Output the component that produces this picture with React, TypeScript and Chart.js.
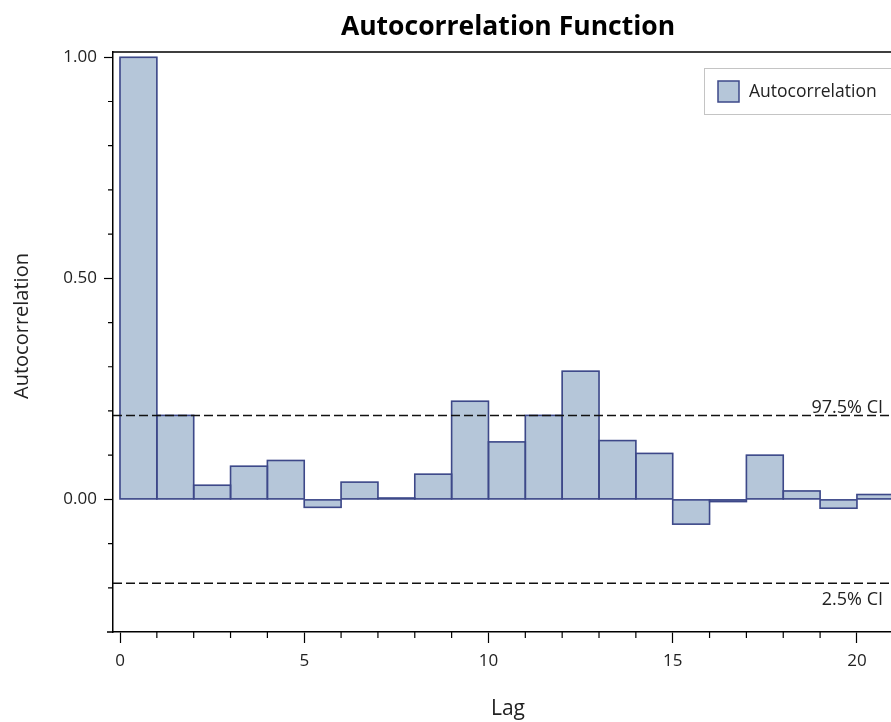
import React, { useEffect, useRef } from 'react';
import { Chart, registerables } from 'chart.js';

Chart.register(...registerables);

// ---- data ----
const lags: number[] = [0, 1, 2, 3, 4, 5, 6, 7, 8, 9, 10, 11, 12, 13, 14, 15, 16, 17, 18, 19, 20];
const acfValues: number[] = [1.0, 0.19, 0.032, 0.075, 0.088, -0.018, 0.039, 0.003, 0.057, 0.222, 0.13, 0.19, 0.29, 0.133, 0.104, -0.056, -0.005, 0.1, 0.019, -0.02, 0.011];
const ciUpper = 0.19;
const ciLower = -0.19;
const xRange: number[] = [-0.19, 21.25];
const yRange: number[] = [-0.3, 1.012];
const xMajorEvery = 5;
const yMajorEvery = 0.5;

const titleText = 'Autocorrelation Function';
const seriesLabel = 'Autocorrelation';
const xTitle = 'Lag';
const yTitle = 'Autocorrelation';
const ciUpperLabel = '97.5% CI';
const ciLowerLabel = '2.5% CI';

// ---- styles ----
const FONT = "'Open Sans', 'Noto Sans', sans-serif";
const BAR_FILL = '#b5c6d9';
const BAR_EDGE = '#3d4889';
const TEXT = '#222';

const isMajorX = (v: number) => Math.abs(v / xMajorEvery - Math.round(v / xMajorEvery)) < 1e-6;
const isMajorY = (v: number) => Math.abs(v / yMajorEvery - Math.round(v / yMajorEvery)) < 1e-6;

// outlines of the bars, stroked on the bar elements' own geometry so that
// neighbouring bars share a single edge line
const barOutlinePlugin = {
  id: 'barOutline',
  afterDatasetDraw(chart: any, args: any) {
    if (args.index !== 0) return;
    const { ctx } = chart;
    const meta = chart.getDatasetMeta(0);
    ctx.save();
    ctx.strokeStyle = BAR_EDGE;
    ctx.lineWidth = 1.6;
    meta.data.forEach((bar: any) => {
      const { x, y, base, width } = bar.getProps(['x', 'y', 'base', 'width'], true);
      const left = x - width / 2;
      const top = Math.min(y, base);
      const h = Math.abs(base - y);
      ctx.strokeRect(left, top, width, h);
    });
    ctx.restore();
  },
};

const decorPlugin = {
  id: 'decor',
  afterDraw(chart: any) {
    const { ctx, chartArea, scales } = chart;
    const xs = scales.x;
    const ys = scales.y;
    ctx.save();
    // plot frame top/right
    ctx.strokeStyle = '#000';
    ctx.lineWidth = 1.5;
    ctx.beginPath();
    ctx.moveTo(chartArea.left, chartArea.top);
    ctx.lineTo(chartArea.right, chartArea.top);
    ctx.lineTo(chartArea.right, chartArea.bottom);
    ctx.moveTo(chartArea.left - 6, chartArea.bottom);
    ctx.lineTo(chartArea.left, chartArea.bottom);
    ctx.stroke();
    // minor ticks
    ctx.lineWidth = 1.2;
    ctx.beginPath();
    xs.ticks.forEach((t: any) => {
      if (!isMajorX(t.value)) {
        const px = xs.getPixelForValue(t.value);
        ctx.moveTo(px, chartArea.bottom);
        ctx.lineTo(px, chartArea.bottom + 6);
      }
    });
    ys.ticks.forEach((t: any) => {
      if (!isMajorY(t.value)) {
        const py = ys.getPixelForValue(t.value);
        ctx.moveTo(chartArea.left, py);
        ctx.lineTo(chartArea.left - 5, py);
      }
    });
    ctx.stroke();

    // title
    ctx.fillStyle = '#000';
    ctx.font = `bold 26.5px ${FONT}`;
    ctx.textAlign = 'center';
    ctx.textBaseline = 'middle';
    ctx.fillText(titleText, (chartArea.left + chartArea.right) / 2, 27);

    // y title
    ctx.save();
    ctx.translate(22, (chartArea.top + chartArea.bottom) / 2 - 16);
    ctx.rotate(-Math.PI / 2);
    ctx.font = `20px ${FONT}`;
    ctx.fillStyle = TEXT;
    ctx.textAlign = 'center';
    ctx.textBaseline = 'middle';
    ctx.fillText(yTitle, 0, 0);
    ctx.restore();

    // CI labels
    ctx.font = `18px ${FONT}`;
    ctx.fillStyle = TEXT;
    ctx.textAlign = 'right';
    ctx.textBaseline = 'alphabetic';
    ctx.fillText(ciUpperLabel, chartArea.right - 20, ys.getPixelForValue(ciUpper) - 2);
    ctx.fillText(ciLowerLabel, chartArea.right - 20, ys.getPixelForValue(ciLower) + 22);

    // legend
    const lx = chartArea.right - 199;
    const ly = chartArea.top + 16;
    ctx.fillStyle = '#fff';
    ctx.fillRect(lx, ly, 200, 46);
    ctx.strokeStyle = '#c4c4c4';
    ctx.lineWidth = 1;
    ctx.strokeRect(lx + 0.5, ly + 0.5, 200, 46);
    ctx.fillStyle = BAR_FILL;
    ctx.fillRect(lx + 14, ly + 13, 21, 21);
    ctx.strokeStyle = BAR_EDGE;
    ctx.lineWidth = 1.5;
    ctx.strokeRect(lx + 14, ly + 13, 21, 21);
    ctx.fillStyle = TEXT;
    ctx.font = `17.5px ${FONT}`;
    ctx.textAlign = 'left';
    ctx.textBaseline = 'middle';
    ctx.fillText(seriesLabel, lx + 45, ly + 24);
    ctx.restore();
  },
};

export default function App() {
  const canvasRef = useRef<HTMLCanvasElement | null>(null);

  useEffect(() => {
    const canvas = canvasRef.current;
    if (!canvas) return;
    const barData = lags.map((l, i) => ({ x: l + 0.5, y: acfValues[i] }));
    const chart = new Chart(canvas, {
      type: 'bar',
      data: {
        datasets: [
          {
            type: 'bar',
            label: seriesLabel,
            data: barData,
            backgroundColor: BAR_FILL,
            borderWidth: 0,
            barPercentage: 1,
            categoryPercentage: 1,
            inflateAmount: 0.5,
            order: 2,
          } as any,
          {
            type: 'line',
            label: ciUpperLabel,
            data: [
              { x: xRange[0], y: ciUpper },
              { x: xRange[1], y: ciUpper },
            ],
            borderColor: '#111',
            borderWidth: 1.5,
            borderDash: [9, 4],
            pointRadius: 0,
            order: 1,
          } as any,
          {
            type: 'line',
            label: ciLowerLabel,
            data: [
              { x: xRange[0], y: ciLower },
              { x: xRange[1], y: ciLower },
            ],
            borderColor: '#111',
            borderWidth: 1.5,
            borderDash: [9, 4],
            pointRadius: 0,
            order: 1,
          } as any,
        ],
      },
      options: {
        responsive: false,
        animation: false,
        layout: { padding: { top: 52, right: 7, left: 0, bottom: 0 } },
        plugins: {
          legend: { display: false },
          tooltip: { enabled: false },
          title: { display: false },
        },
        scales: {
          x: {
            type: 'linear',
            min: xRange[0],
            max: xRange[1],
            offset: false,
            afterFit: (s: any) => {
              s.height = 90;
            },
            ticks: {
              stepSize: 1,
              includeBounds: false,
              autoSkip: false,
              maxRotation: 0,
              padding: 8,
              color: TEXT,
              font: { family: FONT, size: 17 },
              callback: (v: any) => (isMajorX(Number(v)) ? String(v) : ''),
            },
            grid: {
              offset: false,
              drawOnChartArea: false,
              drawTicks: true,
              tickLength: 11,
              tickWidth: 1.2,
              tickColor: (c: any) => (c.tick && isMajorX(c.tick.value) ? '#000' : 'rgba(0,0,0,0)'),
            },
            border: { color: '#000', width: 1.5 },
            title: {
              display: true,
              text: xTitle,
              color: TEXT,
              font: { family: FONT, size: 21 },
              padding: { top: 0, bottom: 0 },
            },
          },
          y: {
            type: 'linear',
            min: yRange[0],
            max: yRange[1],
            afterFit: (s: any) => {
              s.width = 113;
            },
            ticks: {
              stepSize: 0.1,
              includeBounds: false,
              autoSkip: false,
              padding: 7,
              color: TEXT,
              font: { family: FONT, size: 17 },
              callback: (v: any) => (isMajorY(Number(v)) ? Number(v).toFixed(2) : ''),
            },
            grid: {
              drawOnChartArea: false,
              drawTicks: true,
              tickLength: 9,
              tickWidth: 1.2,
              tickColor: (c: any) => (c.tick && isMajorY(c.tick.value) ? '#000' : 'rgba(0,0,0,0)'),
            },
            border: { color: '#000', width: 1.5 },
          },
        },
      },
      plugins: [barOutlinePlugin, decorPlugin],
    });
    return () => chart.destroy();
  }, []);

  return (
    <div style={{ position: 'fixed', left: 0, top: 0, width: 891, height: 722, overflow: 'hidden', background: '#fff' }}>
      <canvas ref={canvasRef} width={910} height={722} style={{ display: 'block' }} />
    </div>
  );
}
